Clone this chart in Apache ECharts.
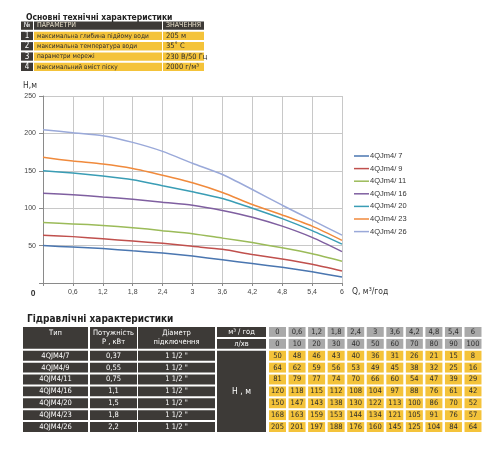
<!DOCTYPE html>
<html>
<head>
<meta charset="utf-8">
<script src="https://cdn.jsdelivr.net/npm/echarts@6/dist/echarts.min.js"></script>
<style>
  html, body { margin: 0; padding: 0; background: #fff; }
  #main { width: 500px; height: 450px; }
</style>
</head>
<body>
<div id="main"></div>
<script>
// ---- data ----
const paramNums = ['1', '2', '3', '4'];
const paramNames = [
  'максимальна глибина підйому води',
  'максимальна температура води',
  'параметри мережі',
  'максимальний вміст піску'
];
const paramValues = ['205 м', '35˚ C', '230 В/50 Гц', '2000 г/м³'];

const flowM3 = [0, 0.6, 1.2, 1.8, 2.4, 3, 3.6, 4.2, 4.8, 5.4, 6];
const flowLmin = [0, 10, 20, 30, 40, 50, 60, 70, 80, 90, 100];

const pumpTypes = ['4QJM4/7', '4QJM4/9', '4QJM4/11', '4QJM4/16', '4QJM4/20', '4QJM4/23', '4QJM4/26'];
const legendNames = ['4QJm4/ 7', '4QJm4/ 9', '4QJm4/ 11', '4QJm4/ 16', '4QJm4/ 20', '4QJm4/ 23', '4QJm4/ 26'];
const powers = ['0,37', '0,55', '0,75', '1,1', '1,5', '1,8', '2,2'];
const diameters = ['1 1/2 "', '1 1/2 "', '1 1/2 "', '1 1/2 "', '1 1/2 "', '1 1/2 "', '1 1/2 "'];

const head7 = [50, 48, 46, 43, 40, 36, 31, 26, 21, 15, 8];
const head9 = [64, 62, 59, 56, 53, 49, 45, 38, 32, 25, 16];
const head11 = [81, 79, 77, 74, 70, 66, 60, 54, 47, 39, 29];
const head16 = [120, 118, 115, 112, 108, 104, 97, 88, 76, 61, 42];
const head20 = [150, 147, 143, 138, 130, 122, 113, 100, 86, 70, 52];
const head23 = [168, 163, 159, 153, 144, 134, 121, 105, 91, 76, 57];
const head26 = [205, 201, 197, 188, 176, 160, 145, 125, 104, 84, 64];
const heads = [head7, head9, head11, head16, head20, head23, head26];

// ---- styles ----
const narrow = "'Liberation Sans Narrow', 'DejaVu Sans Condensed', 'Roboto Condensed', sans-serif";
const lineColors = ['#4a76b0', '#c0504d', '#9bbb59', '#7f5fa0', '#3a9db5', '#f08a3c', '#9aa9d9'];
const cellFill = { dark: '#3d3a37', yellow: '#f4c33a', gray: '#a9a9a9' };
const cellText = { dark: '#ffffff', yellow: '#2b2b2b', gray: '#2b2b2b' };
const kinds = ['dark', 'yellow', 'gray'];

// column edges (axis units) for the two tables
const t1Cols = [[0, 12], [13, 141], [142, 183]];
const t2Cols = [[0, 65], [67, 114], [115, 192], [194, 243]];
const t2ValStart = 246, t2ValPitch = 19.55, t2ValWidth = 17;

// ---- table cells ----
// each cell: [x0, x1, row0, row1, kindIdx], text kept aside
function cell(list, x0, x1, r0, r1, kind, text, opts) {
  list.push({ value: [x0, x1, r0, r1, kinds.indexOf(kind)], text: text, opts: opts || {} });
}

const t1 = [];
cell(t1, t1Cols[0][0], t1Cols[0][1], 0, 1, 'dark', '№', { align: 'center' });
cell(t1, t1Cols[1][0], t1Cols[1][1], 0, 1, 'dark', 'ПАРАМЕТРИ', { color: '#e8e0cc' });
cell(t1, t1Cols[2][0], t1Cols[2][1], 0, 1, 'dark', 'ЗНАЧЕННЯ', { color: '#e8e0cc' });
paramNums.forEach((n, i) => {
  cell(t1, t1Cols[0][0], t1Cols[0][1], i + 1, i + 2, 'dark', n, { align: 'center', size: 8 });
  cell(t1, t1Cols[1][0], t1Cols[1][1], i + 1, i + 2, 'yellow', paramNames[i], { size: 6.5 });
  cell(t1, t1Cols[2][0], t1Cols[2][1], i + 1, i + 2, 'yellow', paramValues[i], { size: 7.5 });
});

const t2 = [];
cell(t2, t2Cols[0][0], t2Cols[0][1], 0, 2, 'dark', 'Тип', { align: 'center', top: true });
cell(t2, t2Cols[1][0], t2Cols[1][1], 0, 2, 'dark', 'Потужність\nР , кВт', { align: 'center' });
cell(t2, t2Cols[2][0], t2Cols[2][1], 0, 2, 'dark', 'Діаметр\nпідключення', { align: 'center' });
cell(t2, t2Cols[3][0], t2Cols[3][1], 0, 1, 'dark', 'м³ / год', { align: 'center' });
cell(t2, t2Cols[3][0], t2Cols[3][1], 1, 2, 'dark', 'л/хв', { align: 'center' });
cell(t2, t2Cols[3][0], t2Cols[3][1], 2, 2 + pumpTypes.length, 'dark', 'Н , м', { align: 'center', size: 8.5 });
flowM3.forEach((q, j) => {
  const x0 = t2ValStart + j * t2ValPitch;
  cell(t2, x0, x0 + t2ValWidth, 0, 1, 'gray', String(q).replace('.', ','), { align: 'center' });
  cell(t2, x0, x0 + t2ValWidth, 1, 2, 'gray', String(flowLmin[j]), { align: 'center' });
});
pumpTypes.forEach((t, i) => {
  const r = i + 2;
  cell(t2, t2Cols[0][0], t2Cols[0][1], r, r + 1, 'dark', t, { align: 'center' });
  cell(t2, t2Cols[1][0], t2Cols[1][1], r, r + 1, 'dark', powers[i], { align: 'center' });
  cell(t2, t2Cols[2][0], t2Cols[2][1], r, r + 1, 'dark', diameters[i], { align: 'center' });
  heads[i].forEach((h, j) => {
    const x0 = t2ValStart + j * t2ValPitch;
    cell(t2, x0, x0 + t2ValWidth, r, r + 1, 'yellow', String(h), { align: 'center' });
  });
});

function tableRenderer(cells, baseSize) {
  return function (params, api) {
    const c = cells[params.dataIndex];
    const p0 = api.coord([api.value(0), api.value(2)]);
    const p1 = api.coord([api.value(1), api.value(3)]);
    const kind = kinds[api.value(4)];
    const x = p0[0], y = p0[1] + 1, w = p1[0] - p0[0], h = p1[1] - p0[1] - 2;
    const o = c.opts;
    const center = o.align === 'center';
    return {
      type: 'group',
      children: [
        { type: 'rect', shape: { x: x, y: y, width: w, height: h }, style: { fill: cellFill[kind] } },
        {
          type: 'text',
          style: {
            x: center ? x + w / 2 : x + 3,
            y: o.top ? y + 2 : y + h / 2,
            text: c.text,
            fill: o.color || cellText[kind],
            font: (o.size || baseSize) + 'px ' + narrow,
            align: center ? 'center' : 'left',
            verticalAlign: o.top ? 'top' : 'middle',
            lineHeight: 9
          }
        }
      ]
    };
  };
}

// ---- chart ----
const chart = echarts.init(document.getElementById('main'), null, { renderer: 'canvas' });

const lineSeries = heads.map((hs, i) => ({
  name: legendNames[i],
  type: 'line',
  xAxisIndex: 0,
  yAxisIndex: 0,
  data: flowM3.map((q, j) => [q, hs[j]]),
  smooth: 0.25,
  symbol: 'none',
  lineStyle: { width: 1.5, color: lineColors[i] },
  itemStyle: { color: lineColors[i] },
  z: 3
}));

const option = {
  backgroundColor: '#fff',
  animation: false,
  title: [
    { text: 'Основні технічні характеристики', left: 21, top: 8,
      textStyle: { fontSize: 8.5, fontWeight: 'bold', color: '#222', fontFamily: narrow } },
    { text: 'Гідравлічні характеристики', left: 22, top: 309,
      textStyle: { fontSize: 10, fontWeight: 'bold', color: '#222', fontFamily: narrow } }
  ],
  legend: {
    orient: 'vertical',
    left: 354,
    top: 152,
    padding: 0,
    icon: 'rect',
    itemWidth: 15,
    itemHeight: 1.5,
    itemGap: 4.6,
    textStyle: { fontSize: 7.5, color: '#333', fontFamily: 'Liberation Sans', padding: [0, 0, 0, -4] },
    data: legendNames
  },
  grid: [
    { left: 43, top: 96, width: 299, height: 187 },
    { left: 21, top: 20.5, width: 183, height: 51.5 },
    { left: 23, top: 326, width: 460, height: 107 }
  ],
  xAxis: [
    {
      gridIndex: 0, type: 'value', min: 0, max: 6, interval: 0.6,
      name: 'Q, м³/год', nameLocation: 'end', nameGap: 10,
      nameTextStyle: { fontSize: 8.5, color: '#333', fontFamily: narrow, verticalAlign: 'top', padding: [4, 0, 0, 0] },
      axisLine: { lineStyle: { color: '#8a8a8a' } },
      axisTick: { show: true, length: 3, lineStyle: { color: '#8a8a8a' } },
      axisLabel: {
        fontSize: 7, color: '#444', margin: 6, fontFamily: 'Liberation Sans',
        formatter: v => Math.abs(v) < 1e-9 ? '{o|0}' : String(+v.toFixed(1)).replace('.', ','),
        rich: { o: { fontSize: 8.5, fontWeight: 'bold', color: '#333', padding: [0, 20, 2, 0] } }
      },
      splitLine: { lineStyle: { color: '#c8c8c8' } }
    },
    { gridIndex: 1, type: 'value', min: 0, max: 183, show: false },
    { gridIndex: 2, type: 'value', min: 0, max: 460, show: false }
  ],
  yAxis: [
    {
      gridIndex: 0, type: 'value', min: 0, max: 250, interval: 50,
      name: 'H,м', nameLocation: 'end', nameGap: 6,
      nameTextStyle: { fontSize: 8.5, color: '#333', fontFamily: narrow, align: 'right', padding: [0, 6, 0, 0] },
      axisLine: { show: true, lineStyle: { color: '#8a8a8a' } },
      axisTick: { show: true, length: 4, lineStyle: { color: '#8a8a8a' } },
      axisLabel: {
        fontSize: 7, color: '#444', margin: 7, fontFamily: 'Liberation Sans',
        formatter: v => v === 0 ? '' : String(v)
      },
      splitLine: { lineStyle: { color: '#c8c8c8' } }
    },
    { gridIndex: 1, type: 'value', min: 0, max: 5, inverse: true, show: false },
    { gridIndex: 2, type: 'value', min: 0, max: 9, inverse: true, show: false }
  ],
  series: lineSeries.concat([
    {
      type: 'custom', xAxisIndex: 1, yAxisIndex: 1, clip: false, silent: true,
      renderItem: tableRenderer(t1, 7),
      data: t1.map(c => c.value)
    },
    {
      type: 'custom', xAxisIndex: 2, yAxisIndex: 2, clip: false, silent: true,
      renderItem: tableRenderer(t2, 7.5),
      data: t2.map(c => c.value)
    }
  ])
};

chart.setOption(option);
</script>
</body>
</html>
